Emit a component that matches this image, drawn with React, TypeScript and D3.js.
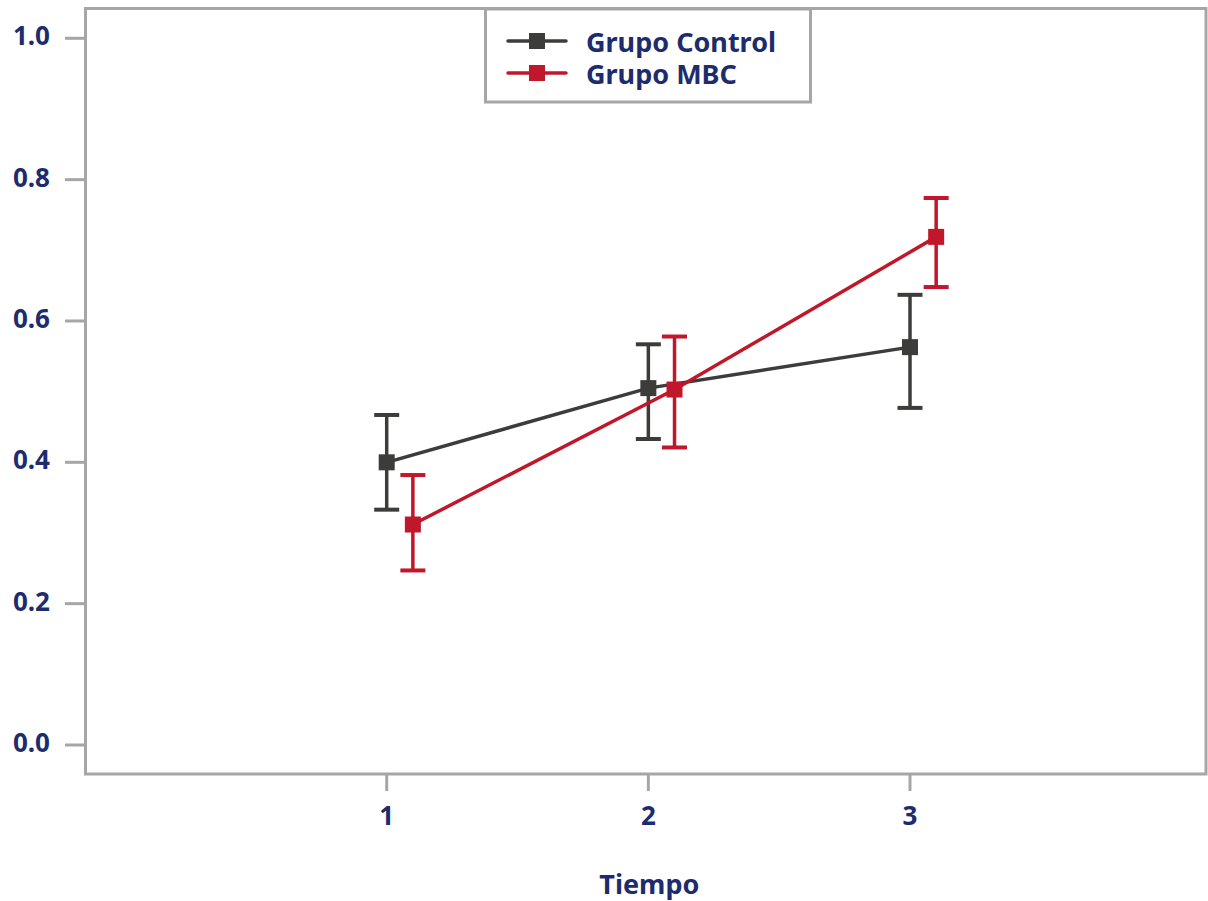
import * as React from "react";
import { select, scaleLinear, line } from "d3";

// data
const timePoints = [1, 2, 3];
const seriesNames = ["Grupo Control", "Grupo MBC"];
const seriesColors = ["#3c3c3b", "#c0172b"];
const seriesOffsets = [0, 0.1];
const controlMeans = [0.4, 0.505, 0.563];
const controlLow = [0.333, 0.433, 0.477];
const controlHigh = [0.467, 0.567, 0.637];
const mbcMeans = [0.312, 0.503, 0.719];
const mbcLow = [0.247, 0.421, 0.648];
const mbcHigh = [0.382, 0.578, 0.774];
const yTicks = [0, 0.2, 0.4, 0.6, 0.8, 1.0];
const xTicks = [1, 2, 3];
const xLabel = "Tiempo";

const W = 1208;
const H = 901;
const FONT = "'Noto Sans', 'Open Sans', sans-serif";
const NAVY = "#1d2c6c";
const GRAY = "#a6a6a6";

function ErrorLineChart() {
    const svgRef = React.useRef(null);

    React.useEffect(() => {
        const svg = select(svgRef.current);
        svg.selectAll("*").remove();

        const frame = { left: 85.5, right: 1206, top: 8.5, bottom: 774 };

        // scales
        const xScale = scaleLinear().domain([1, 3]).range([386.7, 910]);
        const yScale = scaleLinear().domain([0, 1]).range([745, 38.3]);

        // frame
        svg.append("rect")
            .attr("x", frame.left)
            .attr("y", frame.top)
            .attr("width", frame.right - frame.left)
            .attr("height", frame.bottom - frame.top)
            .attr("fill", "none")
            .attr("stroke", GRAY)
            .attr("stroke-width", 3);

        // y axis
        const yAxis = svg.append("g");
        yAxis.selectAll("line")
            .data(yTicks)
            .join("line")
            .attr("x1", 65)
            .attr("x2", frame.left)
            .attr("y1", d => yScale(d))
            .attr("y2", d => yScale(d))
            .attr("stroke", GRAY)
            .attr("stroke-width", 3);
        yAxis.selectAll("text")
            .data(yTicks)
            .join("text")
            .attr("x", 50)
            .attr("y", d => yScale(d) + 7)
            .attr("text-anchor", "end")
            .attr("font-family", FONT)
            .attr("font-weight", 700)
            .attr("font-size", 26)
            .attr("fill", NAVY)
            .text(d => d.toFixed(1));

        // x axis
        const xAxis = svg.append("g");
        xAxis.selectAll("line")
            .data(xTicks)
            .join("line")
            .attr("x1", d => xScale(d))
            .attr("x2", d => xScale(d))
            .attr("y1", frame.bottom)
            .attr("y2", 791)
            .attr("stroke", GRAY)
            .attr("stroke-width", 3);
        xAxis.selectAll("text")
            .data(xTicks)
            .join("text")
            .attr("x", d => xScale(d))
            .attr("y", 825)
            .attr("text-anchor", "middle")
            .attr("font-family", FONT)
            .attr("font-weight", 700)
            .attr("font-size", 26)
            .attr("fill", NAVY)
            .text(d => String(d));

        svg.append("text")
            .attr("x", xScale(2) + 1)
            .attr("y", 894)
            .attr("text-anchor", "middle")
            .attr("font-family", FONT)
            .attr("font-weight", 700)
            .attr("font-size", 27)
            .attr("fill", NAVY)
            .text(xLabel);

        // series
        const series = [
            { means: controlMeans, low: controlLow, high: controlHigh },
            { means: mbcMeans, low: mbcLow, high: mbcHigh }
        ];
        const lineGen = line()
            .x(d => xScale(d[0]))
            .y(d => yScale(d[1]));

        series.forEach((s, i) => {
            const color = seriesColors[i];
            const pts = timePoints.map((t, j) => ({
                x: t + seriesOffsets[i],
                m: s.means[j],
                lo: s.low[j],
                hi: s.high[j]
            }));
            const g = svg.append("g");
            g.append("path")
                .attr("d", lineGen(pts.map(p => [p.x, p.m])))
                .attr("fill", "none")
                .attr("stroke", color)
                .attr("stroke-width", 3.5);
            // error bars
            g.selectAll(".err")
                .data(pts)
                .join("line")
                .attr("class", "err")
                .attr("x1", p => xScale(p.x))
                .attr("x2", p => xScale(p.x))
                .attr("y1", p => yScale(p.lo))
                .attr("y2", p => yScale(p.hi))
                .attr("stroke", color)
                .attr("stroke-width", 3.5);
            ["lo", "hi"].forEach(k => {
                g.selectAll(".cap-" + k)
                    .data(pts)
                    .join("line")
                    .attr("class", "cap-" + k)
                    .attr("x1", p => xScale(p.x) - 12.5)
                    .attr("x2", p => xScale(p.x) + 12.5)
                    .attr("y1", p => yScale(p[k]))
                    .attr("y2", p => yScale(p[k]))
                    .attr("stroke", color)
                    .attr("stroke-width", 4);
            });
            g.selectAll(".marker")
                .data(pts)
                .join("rect")
                .attr("class", "marker")
                .attr("x", p => xScale(p.x) - 8)
                .attr("y", p => yScale(p.m) - 8)
                .attr("width", 16)
                .attr("height", 16)
                .attr("fill", color);
        });

        // legend
        const legend = svg.append("g");
        legend.append("rect")
            .attr("x", 485.5)
            .attr("y", 9)
            .attr("width", 325)
            .attr("height", 93)
            .attr("fill", "white")
            .attr("stroke", GRAY)
            .attr("stroke-width", 3);
        seriesNames.forEach((name, i) => {
            const ly = 41 + i * 32;
            legend.append("line")
                .attr("x1", 508)
                .attr("x2", 566)
                .attr("y1", ly)
                .attr("y2", ly)
                .attr("stroke", seriesColors[i])
                .attr("stroke-width", 3.5)
                .attr("stroke-linecap", "round");
            legend.append("rect")
                .attr("x", 537 - 8)
                .attr("y", ly - 8)
                .attr("width", 16)
                .attr("height", 16)
                .attr("fill", seriesColors[i]);
            legend.append("text")
                .attr("x", 586)
                .attr("y", ly + 10.5)
                .attr("font-family", FONT)
                .attr("font-weight", 700)
                .attr("font-size", 27)
                .attr("fill", NAVY)
                .text(name);
        });
    }, []);

    return (
        <svg
            ref={svgRef}
            width={W}
            height={H}
            style={{ position: "absolute", left: 0, top: 0, background: "white" }}
        />
    );
}

export default function App() {
    return <ErrorLineChart />;
}
